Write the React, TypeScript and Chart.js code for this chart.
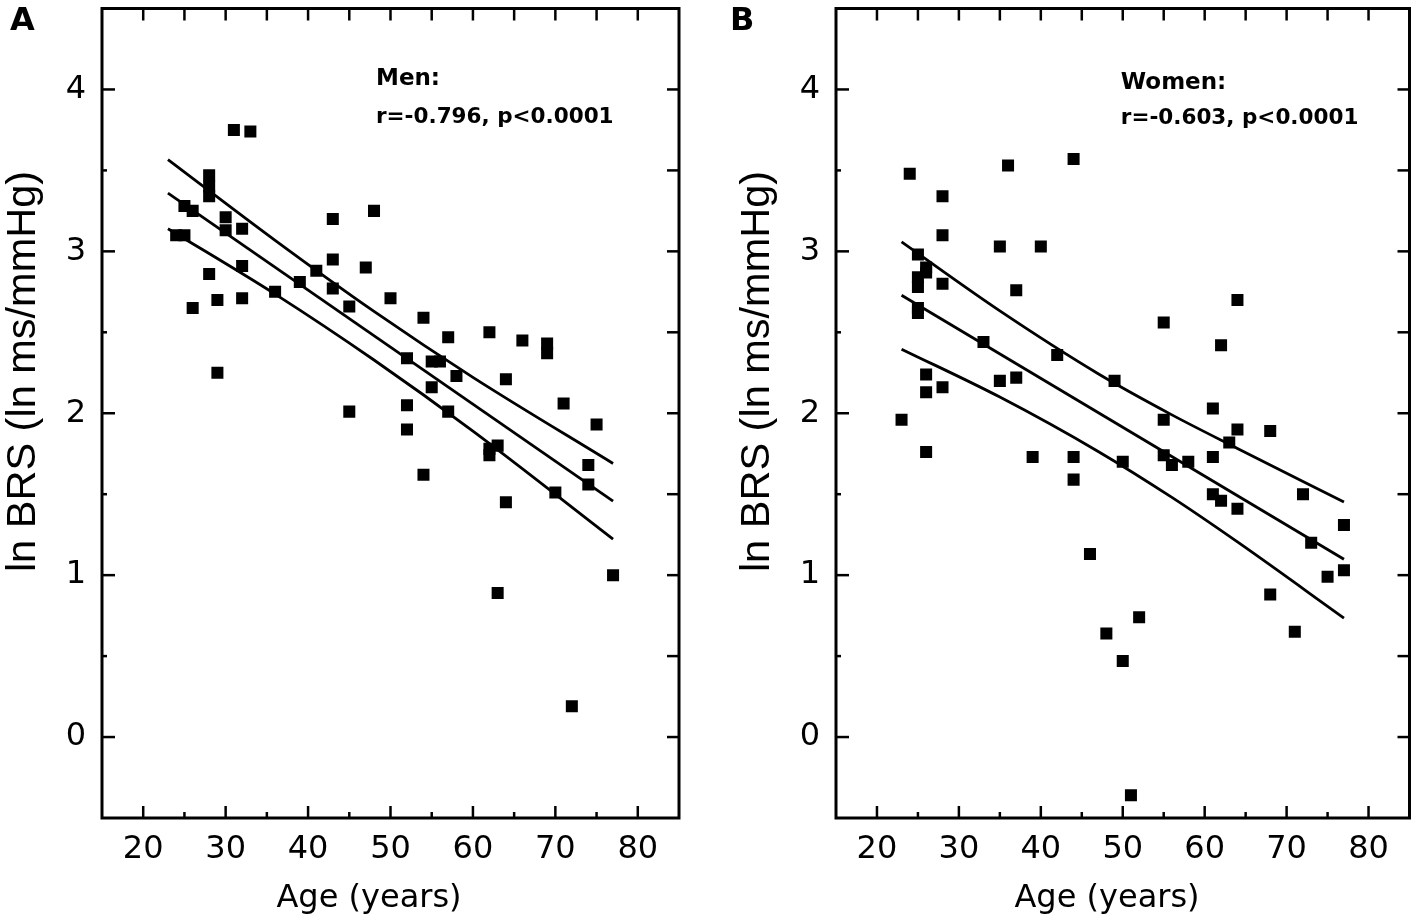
import React, { useEffect, useRef } from 'react';
import { Chart, registerables } from 'chart.js';
Chart.register(...registerables);

// ---------- data ----------
const menAge = [24, 25, 25, 26, 26, 28, 28, 28, 28, 29, 29, 30, 30, 31, 33, 32, 32, 32, 36, 39, 41, 43, 43, 43, 45, 48, 45, 47, 50, 54, 52, 52, 52, 55, 56, 57, 55, 58, 57, 62, 66, 69, 69, 64, 71, 75, 62, 62, 63, 74, 74, 70, 54, 64, 63, 77, 72];
const menBRS = [3.10, 3.10, 3.28, 3.25, 2.65, 3.47, 3.40, 3.34, 2.86, 2.70, 2.25, 3.21, 3.13, 3.75, 3.74, 3.14, 2.91, 2.71, 2.75, 2.81, 2.88, 3.20, 2.95, 2.77, 2.66, 3.25, 2.01, 2.90, 2.71, 2.59, 2.34, 2.05, 1.90, 2.32, 2.32, 2.47, 2.16, 2.23, 2.01, 2.50, 2.45, 2.43, 2.37, 2.21, 2.06, 1.93, 1.74, 1.78, 1.80, 1.68, 1.56, 1.51, 1.62, 1.45, 0.89, 1.00, 0.19];

const womenAge = [23, 24, 25, 25, 25, 25, 25, 26, 26, 26, 26, 26, 28, 28, 28, 28, 33, 35, 35, 36, 37, 37, 40, 42, 44, 49, 55, 55, 61, 62, 64, 64, 63, 68, 39, 44, 44, 46, 48, 50, 52, 51, 50, 55, 56, 58, 61, 61, 62, 64, 68, 71, 72, 73, 75, 77, 77];
const womenBRS = [1.96, 3.48, 2.98, 2.84, 2.78, 2.65, 2.62, 2.90, 2.87, 2.24, 2.13, 1.76, 3.34, 3.10, 2.80, 2.16, 2.44, 3.03, 2.20, 3.53, 2.76, 2.22, 3.03, 2.36, 3.57, 2.20, 2.56, 1.96, 2.03, 2.42, 2.70, 1.90, 1.82, 1.89, 1.73, 1.73, 1.59, 1.13, 0.64, 0.47, 0.74, -0.36, 1.70, 1.74, 1.68, 1.70, 1.73, 1.50, 1.46, 1.41, 0.88, 0.65, 1.50, 1.20, 0.99, 1.31, 1.03];

// regression line and 95% band, read at a few ages
const menFitAge = [23, 77];
const menFitBRS = [3.36, 1.457];
const menUpperAge = [23, 36, 48, 60, 77];
const menUpperBRS = [3.567, 3.068, 2.629, 2.222, 1.69];
const menLowerAge = [23, 36, 48, 60, 77];
const menLowerBRS = [3.14, 2.736, 2.329, 1.89, 1.223];

const womenFitAge = [23, 77];
const womenFitBRS = [2.729, 1.098];
const womenUpperAge = [23, 35, 47, 56, 64, 77];
const womenUpperBRS = [3.058, 2.632, 2.244, 1.99, 1.783, 1.452];
const womenLowerAge = [23, 35, 47, 56, 64, 77];
const womenLowerBRS = [2.396, 2.10, 1.764, 1.48, 1.205, 0.735];

// axes
const xRange = [15, 85];
const yRange = [-0.5, 4.5];
const xMajorTicks = [20, 30, 40, 50, 60, 70, 80];
const xMinorTicks = [25, 35, 45, 55, 65, 75];
const yMajorTicks = [0, 1, 2, 3, 4];
const yMinorTicks = [0.5, 1.5, 2.5, 3.5];
const xTitle = 'Age (years)';
const yTitle = 'ln BRS (ln ms/mmHg)';

const pts = (xs: number[], ys: number[]) => xs.map((x, i) => ({ x, y: ys[i] }));

const panels = [
  {
    letter: 'A', group: 'Men:', stat: 'r=-0.796, p<0.0001',
    age: menAge, brs: menBRS,
    fitAge: menFitAge, fitBRS: menFitBRS,
    upAge: menUpperAge, upBRS: menUpperBRS,
    loAge: menLowerAge, loBRS: menLowerBRS,
    annX: 48.24, annY1: 4.026, annY2: 3.792,
    letterOffset: 92, xTitleOffset: 267,
    axisWidth: 102, pad: { left: 0, right: 30, top: 6, bottom: 0 },
  },
  {
    letter: 'B', group: 'Women:', stat: 'r=-0.603, p<0.0001',
    age: womenAge, brs: womenBRS,
    fitAge: womenFitAge, fitBRS: womenFitBRS,
    upAge: womenUpperAge, upBRS: womenUpperBRS,
    loAge: womenLowerAge, loBRS: womenLowerBRS,
    annX: 49.76, annY1: 4.0, annY2: 3.786,
    letterOffset: 106, xTitleOffset: 271,
    axisWidth: 127, pad: { left: 0, right: 6, top: 7, bottom: 0 },
  },
];

const deco = {
  id: 'panelDeco',
  afterDatasetsDraw(chart: any, _args: any, opts: any) {
    const { ctx, chartArea: ca, scales } = chart;
    const xs = scales.x, ys = scales.y;
    const p = opts.panel;
    ctx.save();
    ctx.strokeStyle = '#000';
    ctx.fillStyle = '#000';
    ctx.lineWidth = 2.5;
    const line = (x1: number, y1: number, x2: number, y2: number) => {
      ctx.beginPath(); ctx.moveTo(x1, y1); ctx.lineTo(x2, y2); ctx.stroke();
    };
    xMajorTicks.forEach((v) => {
      const px = xs.getPixelForValue(v);
      line(px, ca.bottom, px, ca.bottom - 12);
      line(px, ca.top, px, ca.top + 12);
    });
    xMinorTicks.forEach((v) => {
      const px = xs.getPixelForValue(v);
      line(px, ca.bottom, px, ca.bottom - 6);
      line(px, ca.top, px, ca.top + 12);
    });
    yMajorTicks.forEach((v) => {
      const py = ys.getPixelForValue(v);
      line(ca.left, py, ca.left + 13, py);
      line(ca.right, py, ca.right - 12, py);
    });
    yMinorTicks.forEach((v) => {
      const py = ys.getPixelForValue(v);
      line(ca.left, py, ca.left + 5, py);
      line(ca.right, py, ca.right - 12, py);
    });
    ctx.lineWidth = 3;
    ctx.strokeRect(ca.left, ca.top, ca.right - ca.left, ca.bottom - ca.top);

    // panel letter
    ctx.textBaseline = 'alphabetic';
    ctx.textAlign = 'left';
    ctx.font = 'bold 32px "DejaVu Sans"';
    ctx.fillText(p.letter, ca.left - p.letterOffset, 30);

    // annotation
    ctx.font = 'bold 23px "DejaVu Sans"';
    ctx.fillText(p.group, xs.getPixelForValue(p.annX), ys.getPixelForValue(p.annY1));
    ctx.font = 'bold 21.5px "DejaVu Sans"';
    ctx.fillText(p.stat, xs.getPixelForValue(p.annX), ys.getPixelForValue(p.annY2));

    // x title
    ctx.font = '32px "DejaVu Sans"';
    ctx.textAlign = 'center';
    ctx.fillText(xTitle, ca.left + p.xTitleOffset, ca.bottom + 89);

    // y title
    ctx.translate(ca.left - 67, ca.top + 363);
    ctx.rotate(-Math.PI / 2);
    ctx.font = '41.5px "Liberation Sans", Arial';
    ctx.textAlign = 'center';
    ctx.textBaseline = 'alphabetic';
    ctx.fillText(yTitle, 0, 0);
    ctx.restore();
  },
};

function Panel({ p }: { p: any }) {
  const ref = useRef<HTMLCanvasElement>(null);
  useEffect(() => {
    const lineDs = (data: any[], monotone: boolean) => ({
      type: 'line',
      data,
      borderColor: '#000',
      borderWidth: 2.8,
      pointRadius: 0,
      showLine: true,
      fill: false,
      cubicInterpolationMode: monotone ? 'monotone' : 'default',
      tension: 0,
    });
    const chart = new Chart(ref.current as HTMLCanvasElement, {
      type: 'scatter',
      data: {
        datasets: [
          {
            data: pts(p.age, p.brs),
            pointStyle: 'rect',
            pointRadius: 8.5,
            backgroundColor: '#000',
            borderColor: '#000',
            borderWidth: 0,
          } as any,
          lineDs(pts(p.fitAge, p.fitBRS), false) as any,
          lineDs(pts(p.upAge, p.upBRS), true) as any,
          lineDs(pts(p.loAge, p.loBRS), true) as any,
        ],
      },
      options: {
        responsive: false,
        animation: false,
        events: [],
        devicePixelRatio: 1,
        layout: { padding: p.pad },
        plugins: {
          legend: { display: false },
          tooltip: { enabled: false },
          panelDeco: { panel: p },
        } as any,
        scales: {
          x: {
            type: 'linear',
            min: xRange[0],
            max: xRange[1],
            grid: { display: false, drawTicks: false, tickLength: 0 },
            border: { display: false },
            afterBuildTicks: (s: any) => { s.ticks = xMajorTicks.map((v) => ({ value: v })); },
            afterFit: (s: any) => { s.height = 101; s.paddingLeft = 0; s.paddingRight = 0; },
            ticks: {
              color: '#000',
              padding: 12,
              maxRotation: 0,
              autoSkip: false,
              font: { family: '"DejaVu Sans"', size: 32 },
            },
          },
          y: {
            type: 'linear',
            min: yRange[0],
            max: yRange[1],
            grid: { display: false, drawTicks: false, tickLength: 0 },
            border: { display: false },
            afterBuildTicks: (s: any) => { s.ticks = yMajorTicks.map((v) => ({ value: v })); },
            afterFit: (s: any) => { s.width = p.axisWidth; s.paddingTop = 0; s.paddingBottom = 0; },
            ticks: {
              color: '#000',
              padding: 16,
              autoSkip: false,
              font: { family: '"DejaVu Sans"', size: 32 },
            },
          },
        },
      },
      plugins: [deco],
    } as any);
    return () => chart.destroy();
  }, [p]);
  return <canvas ref={ref} width={709} height={919} style={{ display: 'block' }} />;
}

export default function App() {
  return (
    <div style={{ position: 'absolute', left: 0, top: 0, width: 1418, height: 919, background: '#fff', display: 'flex' }}>
      <Panel p={panels[0]} />
      <Panel p={panels[1]} />
    </div>
  );
}
